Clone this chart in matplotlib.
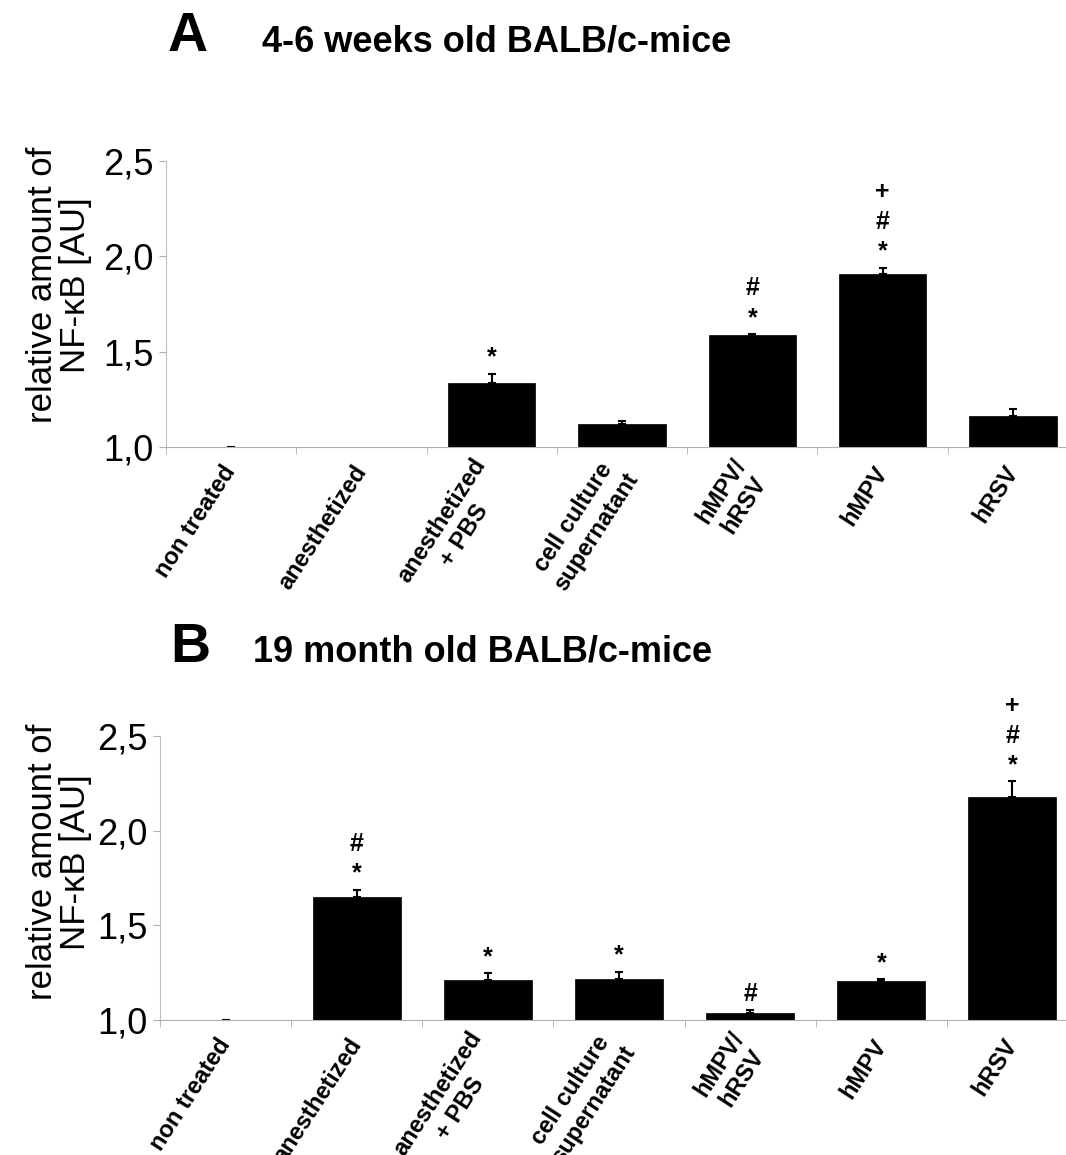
import matplotlib.pyplot as plt
import matplotlib.transforms as mtransforms
import numpy as np

plt.rcParams['font.family'] = ['Liberation Sans', 'DejaVu Sans']

# categories on the x axis
categories = ['non treated', 'anesthetized', 'anesthetized\n+ PBS',
              'cell culture\nsupernatant', 'hMPV/\nhRSV', 'hMPV', 'hRSV']

# panel A: 4-6 weeks old mice
young_mean = [1.0, np.nan, 1.335, 1.12, 1.587, 1.905, 1.163]
young_err = [0.0, np.nan, 0.05, 0.016, 0.005, 0.035, 0.037]
young_marks = ['', '', '*', '', '#\n*', '+\n#\n*', '']

# panel B: 19 month old mice
old_mean = [1.0, 1.65, 1.211, 1.217, 1.035, 1.206, 2.18]
old_err = [0.0, 0.037, 0.037, 0.037, 0.018, 0.009, 0.08]
old_marks = ['', '#\n*', '*', '*', '#', '*', '+\n#\n*']

yticks = [1.0, 1.5, 2.0, 2.5]
ytick_labels = ['1,0', '1,5', '2,0', '2,5']

W, H = 1066, 1155
fig = plt.figure(figsize=(W / 100, H / 100), dpi=100)


def draw_panel(rect, mean, err, marks, letter, title, letter_xy, title_xy, ylab_xy):
    ax = fig.add_axes(rect)
    x = np.arange(len(categories))
    mean = np.array(mean, dtype=float)
    err = np.array(err, dtype=float)
    ax.bar(x, mean, width=0.67, color='black', edgecolor='black', linewidth=0.5)
    ax.errorbar(x, mean, yerr=[np.zeros_like(err), err], fmt='none',
                ecolor='black', elinewidth=1.5, capsize=3, capthick=1.5)
    for i, m in enumerate(marks):
        if m:
            ax.annotate(m, xy=(x[i], mean[i] + err[i]), xytext=(0, 3),
                        textcoords='offset points', ha='center', va='bottom',
                        fontsize=18, fontweight='bold', linespacing=1.3,
                        annotation_clip=False)
    ax.set_ylim(1.0, 2.5)
    ax.set_xlim(-0.5, len(categories) - 0.5)
    ax.set_yticks(yticks)
    ax.set_yticklabels(ytick_labels, fontsize=26)
    ax.tick_params(axis='y', length=5, color='#b0b0b0', pad=4)
    ax.set_xticks(x)
    ax.set_xticklabels(categories, rotation=57, ha='right', va='center',
                       rotation_mode='anchor', fontsize=17, fontweight='bold',
                       multialignment='center')
    # nudge the slanted labels a little to the right
    shift = mtransforms.ScaledTranslation(0.06, 0, fig.dpi_scale_trans)
    for lab in ax.get_xticklabels():
        lab.set_transform(lab.get_transform() + shift)
    ax.set_xticks(np.arange(-0.5, len(categories), 1), minor=True)
    ax.tick_params(axis='x', which='major', length=0, pad=15)
    ax.tick_params(axis='x', which='minor', length=5, color='#b0b0b0')
    for s in ['top', 'right']:
        ax.spines[s].set_visible(False)
    ax.spines['left'].set_color('#c0c0c0')
    ax.spines['bottom'].set_color('#b0b0b0')
    fig.text(letter_xy[0] / W, 1 - letter_xy[1] / H, letter, fontsize=40,
             fontweight='bold', va='baseline', ha='left')
    fig.text(title_xy[0] / W, 1 - title_xy[1] / H, title, fontsize=26,
             fontweight='bold', va='baseline', ha='left')
    fig.text(ylab_xy[0] / W, 1 - ylab_xy[1] / H, 'relative amount of\nNF-\u03baB [AU]',
             rotation=90, fontsize=25, ha='center', va='center',
             multialignment='center', linespacing=1.0)
    return ax


draw_panel([166 / W, 1 - 447 / H, 912 / W, 286 / H], young_mean, young_err, young_marks,
           'A', '4-6 weeks old BALB/c-mice', (168, 51), (262, 51), (59, 285))
draw_panel([160 / W, 1 - 1020 / H, 918 / W, 284 / H], old_mean, old_err, old_marks,
           'B', '19 month old BALB/c-mice', (170, 662), (253, 662), (59, 862))

fig.savefig('out.png', dpi=100)
